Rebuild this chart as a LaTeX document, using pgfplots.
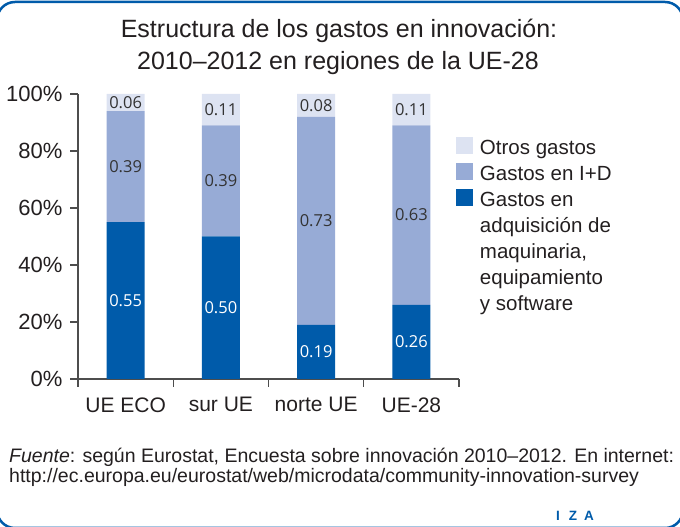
\documentclass[border=0pt]{standalone}
\usepackage{fontspec}
\setmainfont{Liberation Sans}
\newfontfamily\labelfont{Open Sans}
\usepackage{pgfplots}
\pgfplotsset{compat=1.18}
\definecolor{dkblue}{RGB}{0,91,170}
\definecolor{mdblue}{RGB}{151,171,214}
\definecolor{ltblue}{RGB}{221,227,242}
\definecolor{txt}{RGB}{35,31,32}
\definecolor{axisgray}{RGB}{77,77,77}
\definecolor{lbl}{RGB}{51,51,51}
\pgfplotsset{
  mybase/.style={
    scale only axis, width=381bp, height=285bp,
    at={(78bp,148bp)}, anchor=south west,
    xmin=-0.5, xmax=3.5, ymin=0, ymax=1,
  },
  sq/.style={legend image code/.code={\fill (0bp,0bp) rectangle (17bp,17bp);}},
}
\begin{document}
\begin{tikzpicture}
\useasboundingbox (0,0) rectangle (680bp,527bp);
\draw[dkblue, line width=2.5bp, rounded corners=18bp] (-3bp,-1bp) rectangle (683bp,525bp);
\node[anchor=base, inner sep=0, text=txt, font=\fontsize{25bp}{30bp}\selectfont] at (339bp,489bp) {Estructura de los gastos en innovación:};
\node[anchor=base, inner sep=0, text=txt, font=\fontsize{25bp}{30bp}\selectfont] at (338bp,457bp) {2010–2012 en regiones de la UE-28};
\begin{axis}[mybase,
  ybar stacked, bar width=0.4,
  axis x line*=bottom, axis y line*=left,
  axis line style={axisgray, line width=1.3bp},
  tick style={axisgray, line width=1.3bp},
  tick align=outside, major tick length=8bp,
  ytick={0,0.2,0.4,0.6,0.8,1},
  yticklabels={0\%,20\%,40\%,60\%,80\%,100\%},
  yticklabel style={xshift=-4bp},
  xtick={-0.5,0.5,1.5,2.5,3.5},
  xticklabels={,,,,},
  extra x ticks={0,1,2,3},
  extra x tick labels={UE ECO,sur UE,norte UE,UE-28},
  extra x tick style={major tick length=0pt, tick label style={font=\fontsize{21bp}{21bp}\selectfont, yshift=-15bp}},
  tick label style={text=txt, font=\fontsize{22bp}{22bp}\selectfont},
  reverse legend,
  legend style={at={(0.9921,0.849)}, anchor=north west, draw=none, fill=none,
    inner sep=0pt, outer sep=0pt, row sep=0pt,
    font=\fontsize{20.5bp}{26bp}\selectfont, text=txt,
    cells={anchor=base west},
    nodes={inner sep=0pt, text height=17bp, text depth=9bp},
    /tikz/every odd column/.append style={column sep=7bp}},
]
\addplot[fill=dkblue, draw=none, sq] coordinates {(0,0.55) (1,0.50) (2,0.19) (3,0.26)};
\addlegendentry{\begin{tabular}[t]{@{}l@{}}Gastos en\\adquisición de\\maquinaria,\\equipamiento\\y software\end{tabular}}
\addplot[fill=mdblue, draw=none, sq] coordinates {(0,0.39) (1,0.39) (2,0.73) (3,0.63)};
\addlegendentry{Gastos en I+D}
\addplot[fill=ltblue, draw=none, sq] coordinates {(0,0.06) (1,0.11) (2,0.08) (3,0.11)};
\addlegendentry{Otros gastos}
\end{axis}
\begin{axis}[mybase, hide axis, clip=false]
\addplot[draw=none, mark=none, nodes near coords, point meta=explicit symbolic,
  every node near coord/.append style={anchor=center, inner sep=0pt, font=\labelfont\fontsize{16.5bp}{18bp}\selectfont, text=white}]
  coordinates {(0,0.275)[0.55] (1,0.25)[0.50] (2,0.095)[0.19] (3,0.13)[0.26]};
\addplot[draw=none, mark=none, nodes near coords, point meta=explicit symbolic,
  every node near coord/.append style={anchor=center, inner sep=0pt, font=\labelfont\fontsize{16.5bp}{18bp}\selectfont, text=lbl}]
  coordinates {(0,0.745)[0.39] (1,0.695)[0.39] (2,0.555)[0.73] (3,0.575)[0.63]
               (0,0.97)[0.06] (1,0.945)[0.11] (2,0.96)[0.08] (3,0.945)[0.11]};
\end{axis}
\node[anchor=base west, inner sep=0, text=txt, font=\fontsize{19.5bp}{21bp}\selectfont] at (9bp,64.5bp) {\textit{Fuente}: según Eurostat, Encuesta sobre innovación 2010–2012. En internet:};
\node[anchor=base west, inner sep=0, text=txt, font=\fontsize{19.5bp}{21bp}\selectfont] at (9bp,44bp) {http://ec.europa.eu/eurostat/web/microdata/community-innovation-survey};
\node[anchor=base west, inner sep=0, text=dkblue, font=\bfseries\fontsize{13.5bp}{13.5bp}\selectfont] at (556bp,7bp) {I\kern9bp Z\kern7bp A};
\end{tikzpicture}
\end{document}
